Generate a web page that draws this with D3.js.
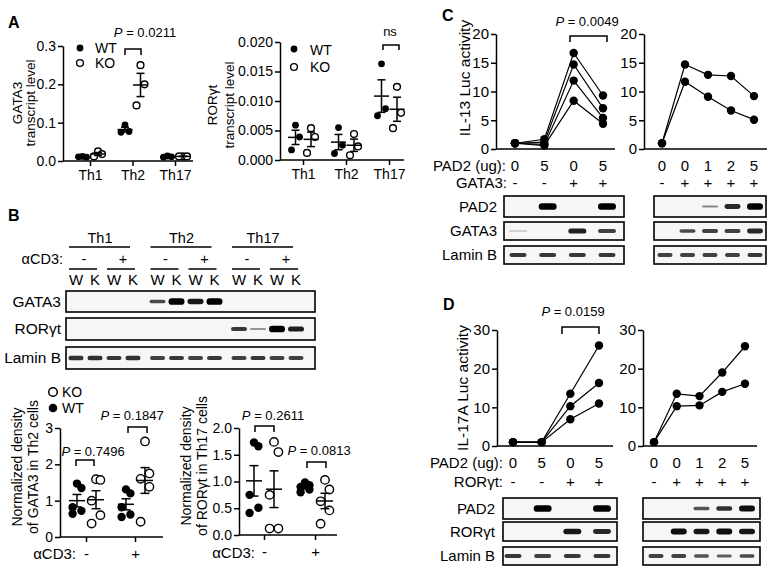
<!DOCTYPE html>
<html><head><meta charset="utf-8">
<script src="https://cdn.jsdelivr.net/npm/d3@7"></script>
<style>
body{margin:0;background:#fff;}
svg{display:block;}
</style></head><body>
<script>
// ===== Panel A data =====
const cellTypes = ["Th1", "Th2", "Th17"];
const gata3WT = [[0.012, 0.010, 0.011], [0.094, 0.077, 0.075], [0.013, 0.011, 0.010]];
const gata3KO = [[0.025, 0.018, 0.012], [0.250, 0.200, 0.145], [0.012, 0.012, 0.012]];
const gata3Ticks = [0, 0.1, 0.2, 0.3];
const rorWT = [[0.0059, 0.0039, 0.0017], [0.0055, 0.0025, 0.0011], [0.0163, 0.0087, 0.0075]];
const rorKO = [[0.0054, 0.0039, 0.0012], [0.0044, 0.0023, 0.0008], [0.0124, 0.0080, 0.0054]];
const rorTicks = [0, 0.005, 0.010, 0.015, 0.020];
const genotypes = ["WT", "KO"];

// ===== Panel B data =====
const blotGroups = ["Th1", "Th2", "Th17"];
const laneLetters = ["W", "K", "W", "K"];
const stimSigns = ["-", "+"];
const blotB_GATA3 = [0, 0, 0, 0, 0.55, 1, 0.85, 1, 0, 0, 0, 0];
const blotB_ROR = [0, 0, 0, 0, 0, 0, 0, 0, 0.65, 0.2, 1, 0.8];
const blotB_Lamin = [0.7, 0.7, 0.65, 0.7, 0.6, 0.65, 0.6, 0.65, 0.6, 0.65, 0.6, 0.6];
const normGata3WT = [[1.47, 1.35, 0.82, 0.72, 0.64], [1.31, 1.20, 0.82, 0.62, 0.55]];
const normGata3KO = [[1.59, 1.57, 1.00, 0.60, 0.37], [2.63, 1.75, 1.60, 1.38, 0.42]];
const normRorWT = [[1.73, 1.66, 0.75, 0.51, 0.41], [0.98, 0.93, 0.90, 0.85, 0.80]];
const normRorKO = [[1.74, 1.55, 0.75, 0.12, 0.12], [1.03, 0.85, 0.63, 0.46, 0.21]];
const normGata3Ticks = [0, 1, 2, 3];
const normRorTicks = [0, 0.5, 1.0, 1.5, 2.0];
const pB = ["0.7496", "0.1847", "0.2611", "0.0813"];

// ===== Panel C data =====
const padDose4 = ["0", "5", "0", "5"];
const signs4 = ["-", "-", "+", "+"];
const padDose5 = ["0", "0", "1", "2", "5"];
const signs5 = ["-", "+", "+", "+", "+"];
const il13Left = [[1.0, 1.7, 16.7, 9.3], [1.0, 1.2, 14.7, 7.1], [1.0, 0.8, 11.9, 5.4], [1.0, 0.6, 8.4, 4.4]];
const il13Right = [[1.0, 14.7, 12.9, 12.7, 9.2], [1.0, 11.7, 9.1, 6.7, 5.1]];
const il13Ticks = [0, 5, 10, 15, 20];
const blotC_PAD2_L = [0, 1, 0, 1];
const blotC_GATA3_L = [0.03, 0, 0.8, 0.6];
const blotC_Lamin_L = [0.65, 0.65, 0.65, 0.65];
const blotC_PAD2_R = [0, 0, 0.25, 0.75, 1];
const blotC_GATA3_R = [0, 0.55, 0.6, 0.6, 0.75];
const blotC_Lamin_R = [0.6, 0.6, 0.6, 0.6, 0.65];

// ===== Panel D data =====
const il17Left = [[1.0, 1.0, 13.5, 26.0], [1.0, 1.0, 10.3, 16.3], [1.0, 1.0, 6.9, 11.0]];
const il17Right = [[1.0, 13.5, 12.9, 19.0, 25.8], [1.0, 10.3, 10.5, 14.0, 16.1]];
const il17Ticks = [0, 10, 20, 30];
const blotD_PAD2_L = [0, 1, 0, 1];
const blotD_ROR_L = [0, 0, 0.85, 0.75];
const blotD_Lamin_L = [0.65, 0.6, 0.65, 0.65];
const blotD_PAD2_R = [0, 0, 0.5, 0.7, 0.9];
const blotD_ROR_R = [0, 0.9, 0.85, 0.9, 0.85];
const blotD_Lamin_R = [0.6, 0.6, 0.5, 0.45, 0.55];

const FONT = '"Liberation Sans", Arial, Helvetica, sans-serif';
const svg = d3.select("body").append("svg").attr("width", 770).attr("height", 567)
  .style("font-family", FONT);
svg.append("rect").attr("width", 770).attr("height", 567).attr("fill", "#fff");
svg.append("defs").append("filter").attr("id", "blur")
  .attr("x", "-30%").attr("y", "-100%").attr("width", "160%").attr("height", "300%")
  .append("feGaussianBlur").attr("stdDeviation", 0.65);

function styleAxis(g, fs) {
  g.select(".domain").attr("stroke", "#000").attr("stroke-width", 1.5);
  g.selectAll(".tick line").attr("stroke", "#000").attr("stroke-width", 1.5);
  g.selectAll(".tick text").attr("fill", "#000").attr("font-size", fs).attr("font-family", FONT);
}
function txt(g, x, y, s, fs, anchor = "middle") {
  return g.append("text").attr("x", x).attr("y", y).attr("font-size", fs)
    .attr("text-anchor", anchor).attr("fill", "#000").text(s);
}
function rotTxt(g, x, y, s, fs) {
  return g.append("text").attr("transform", `translate(${x},${y}) rotate(-90)`)
    .attr("font-size", fs).attr("text-anchor", "middle").attr("fill", "#000").text(s);
}
function pText(g, cx, y, val, fs = 13) {
  const t = g.append("text").attr("x", cx).attr("y", y).attr("text-anchor", "middle").attr("font-size", fs);
  t.append("tspan").attr("font-style", "italic").text("P");
  t.append("tspan").text(" = " + val);
}
function bracket(g, x1, x2, yTop, yBot) {
  g.append("path").attr("d", `M${x1},${yBot}V${yTop}H${x2}V${yBot}`)
    .attr("fill", "none").attr("stroke", "#000").attr("stroke-width", 1.5);
}
function letter(x, y, s) {
  svg.append("text").attr("x", x).attr("y", y).attr("font-size", 16).attr("font-weight", "bold").text(s);
}

const offs = [0, 4, -4, 4, -4];
function dotGroup(g, cx, vals, y, filled, r, half, cap) {
  vals.forEach((v, i) => {
    g.append("circle").attr("cx", cx + offs[i] * (vals.length === 5 ? 1.1 : 1)).attr("cy", y(v)).attr("r", r)
      .attr("fill", filled ? "#000" : "#fff").attr("stroke", "#000").attr("stroke-width", filled ? 0 : 1.4);
  });
  const m = d3.mean(vals), se = d3.deviation(vals) / Math.sqrt(vals.length);
  const st = (sel) => sel.attr("stroke", "#000").attr("stroke-width", 1.5);
  st(g.append("line").attr("x1", cx - half).attr("x2", cx + half).attr("y1", y(m)).attr("y2", y(m)));
  st(g.append("line").attr("x1", cx).attr("x2", cx).attr("y1", y(m - se)).attr("y2", y(m + se)));
  st(g.append("line").attr("x1", cx - cap).attr("x2", cx + cap).attr("y1", y(m - se)).attr("y2", y(m - se)));
  st(g.append("line").attr("x1", cx - cap).attr("x2", cx + cap).attr("y1", y(m + se)).attr("y2", y(m + se)));
}

function dotPlot(c) {
  const g = svg.append("g");
  const y = d3.scaleLinear().domain([0, c.max]).range([c.y0, c.y1]);
  const x = d3.scalePoint().domain(c.cats).range([c.xFirst, c.xLast]);
  const ya = g.append("g").attr("transform", `translate(${c.ax},0)`)
    .call(d3.axisLeft(y).tickValues(c.ticks).tickFormat(c.fmt).tickSize(5).tickSizeOuter(0).tickPadding(2));
  styleAxis(ya, c.fs);
  const xa = g.append("g").attr("transform", `translate(0,${c.y0})`)
    .call(d3.axisBottom(x).tickSize(5).tickSizeOuter(0).tickPadding(c.xPad));
  styleAxis(xa, c.xfs);
  xa.select(".domain").attr("d", `M${c.ax},0H${c.axEnd}`);
  c.cats.forEach((cat, i) => {
    dotGroup(g, x(cat) - c.dx1, c.wt[i], y, true, c.r, c.half, c.cap);
    dotGroup(g, x(cat) + c.dx2, c.ko[i], y, false, c.r, c.half, c.cap);
  });
  return { g, x, y };
}

// ================= Panel A =================
letter(8, 28, "A");
{
  const p = dotPlot({ max: 0.3, y0: 161, y1: 46, ax: 63, axEnd: 193, cats: cellTypes, xFirst: 90, xLast: 175,
    ticks: gata3Ticks, fmt: d3.format(".1f"), fs: 14, xfs: 14, xPad: 4, wt: gata3WT, ko: gata3KO,
    dx1: 7.5, dx2: 8, r: 3.4, half: 7.5, cap: 4 });
  const g = p.g;
  g.append("circle").attr("cx", 80).attr("cy", 48).attr("r", 3.4).attr("fill", "#000");
  g.append("circle").attr("cx", 80).attr("cy", 63).attr("r", 3.4).attr("fill", "#fff").attr("stroke", "#000").attr("stroke-width", 1.4);
  txt(g, 95, 53, genotypes[0], 14, "start");
  txt(g, 95, 68, genotypes[1], 14, "start");
  pText(g, 145, 37, "0.0211");
  bracket(g, 125, 141, 49, 55);
  rotTxt(g, 21.5, 103, "GATA3", 13.5);
  rotTxt(g, 35, 103, "transcript level", 13.5);
}
{
  const p = dotPlot({ max: 0.02, y0: 160, y1: 42, ax: 280, axEnd: 404, cats: cellTypes, xFirst: 303, xLast: 389,
    ticks: rorTicks, fmt: d3.format(".3f"), fs: 14, xfs: 14, xPad: 4, wt: rorWT, ko: rorKO,
    dx1: 7.5, dx2: 8, r: 3.4, half: 7.5, cap: 4 });
  const g = p.g;
  g.append("circle").attr("cx", 294).attr("cy", 49).attr("r", 3.4).attr("fill", "#000");
  g.append("circle").attr("cx", 294).attr("cy", 67).attr("r", 3.4).attr("fill", "#fff").attr("stroke", "#000").attr("stroke-width", 1.4);
  txt(g, 310, 55, genotypes[0], 14, "start");
  txt(g, 310, 72, genotypes[1], 14, "start");
  txt(g, 390, 36, "ns", 13);
  bracket(g, 383, 399, 45, 50);
  rotTxt(g, 217, 105, "RORγt", 13.5);
  rotTxt(g, 234, 105, "transcript level", 13.5);
}

// ================= Panel B =================
letter(8, 221, "B");
function blotRow(g, x0, x1, y0, y1, laneX, vals, label, labelX, bandW, fs) {
  g.append("rect").attr("x", x0).attr("y", y0).attr("width", x1 - x0).attr("height", y1 - y0)
    .attr("fill", "#f6f6f6").attr("stroke", "#000").attr("stroke-width", 1.6);
  const cy = (y0 + y1) / 2;
  vals.forEach((v, i) => {
    if (v <= 0) return;
    const h = 1.5 + 5.2 * Math.pow(v, 1.5);
    g.append("rect").attr("x", laneX(i) - bandW / 2).attr("y", cy - h / 2)
      .attr("width", bandW).attr("height", h).attr("rx", h / 2)
      .attr("fill", "#000").attr("fill-opacity", Math.min(1, 0.12 + 0.88 * Math.pow(v, 0.7))).attr("filter", "url(#blur)");
  });
  if (label) txt(g, labelX, cy + 5, label, fs, "end");
}
{
  const g = svg.append("g");
  const gx = d3.scalePoint().domain(blotGroups).range([76, 239]);
  const ix = d3.scalePoint().domain(d3.range(4)).range([0, 57]);
  const laneX = (i) => gx(blotGroups[Math.floor(i / 4)]) + ix(i % 4);
  const ln = (x1, x2, y) => g.append("line").attr("x1", x1).attr("x2", x2).attr("y1", y).attr("y2", y)
    .attr("stroke", "#000").attr("stroke-width", 1.5);
  blotGroups.forEach((grp) => {
    const g0 = gx(grp);
    txt(g, g0 + 24, 243, grp, 14.5);
    ln(g0 - 7, g0 + 54, 247);
    ln(g0 - 7, g0 + 21, 269);
    ln(g0 + 31, g0 + 59, 269);
    txt(g, g0 + 8, 264, stimSigns[0], 14.5);
    txt(g, g0 + 47, 264, stimSigns[1], 14.5);
    laneLetters.forEach((L, j) => txt(g, g0 + ix(j), 285, L, 15));
  });
  txt(g, 63, 264, "αCD3:", 14.5, "end");
  blotRow(g, 66, 315, 291, 312, laneX, blotB_GATA3, "GATA3", 61, 16, 15.5);
  blotRow(g, 66, 315, 318, 340, laneX, blotB_ROR, "RORγt", 61, 16, 15.5);
  blotRow(g, 66, 315, 347, 369, laneX, blotB_Lamin, "Lamin B", 61, 15, 15.5);
}
{
  const p = dotPlot({ max: 3, y0: 537, y1: 428, ax: 60, axEnd: 163, cats: stimSigns, xFirst: 86, xLast: 135,
    ticks: normGata3Ticks, fmt: d3.format("d"), fs: 14, xfs: 15, xPad: 6, wt: normGata3WT, ko: normGata3KO,
    dx1: 9, dx2: 10, r: 4.2, half: 8, cap: 4.5 });
  const g = p.g;
  g.append("circle").attr("cx", 53).attr("cy", 392).attr("r", 4.3).attr("fill", "#fff").attr("stroke", "#000").attr("stroke-width", 1.5);
  g.append("circle").attr("cx", 53).attr("cy", 408).attr("r", 4.3).attr("fill", "#000");
  txt(g, 62, 397, genotypes[1], 14, "start");
  txt(g, 62, 413, genotypes[0], 14, "start");
  txt(g, 76, 559, "αCD3:", 15, "end");
  pText(g, 93, 456, pB[0]);
  bracket(g, 76, 94, 460, 466);
  pText(g, 132, 420, pB[1]);
  bracket(g, 128, 147, 427, 433);
  rotTxt(g, 22, 467, "Normalized density", 14);
  rotTxt(g, 38, 467, "of GATA3 in Th2 cells", 14);
}
{
  const p = dotPlot({ max: 2, y0: 535, y1: 428, ax: 239, axEnd: 337, cats: stimSigns, xFirst: 264, xLast: 315,
    ticks: normRorTicks, fmt: d3.format(".1f"), fs: 14, xfs: 15, xPad: 6, wt: normRorWT, ko: normRorKO,
    dx1: 10, dx2: 10, r: 4.2, half: 8, cap: 4.5 });
  const g = p.g;
  txt(g, 255, 558, "αCD3:", 15, "end");
  pText(g, 273, 420, pB[2]);
  bracket(g, 255, 274, 426, 432);
  pText(g, 319, 455, pB[3]);
  bracket(g, 307, 326, 462, 468);
  rotTxt(g, 191, 466, "Normalized density", 14);
  rotTxt(g, 207, 466, "of RORγt in Th17 cells", 14);
}

// ================= Panels C & D =================
function lucPlot(c) {
  const g = svg.append("g");
  const y = d3.scaleLinear().domain([0, c.max]).range([c.y0, c.y1]);
  const x = d3.scalePoint().domain(d3.range(c.series[0].length)).range([c.xFirst, c.xLast]);
  const ya = g.append("g").attr("transform", `translate(${c.ax},0)`)
    .call(d3.axisLeft(y).tickValues(c.ticks).tickSize(5).tickSizeOuter(0).tickPadding(2));
  styleAxis(ya, 15);
  const xa = g.append("g").attr("transform", `translate(0,${c.y0})`)
    .call(d3.axisBottom(x).tickSize(0).tickFormat(""));
  styleAxis(xa, 15);
  xa.select(".domain").attr("d", `M${c.ax},0H${c.axEnd}`);
  const line = d3.line().x((d, i) => x(i)).y(d => y(d));
  c.series.forEach(s => g.append("path").attr("d", line(s)).attr("fill", "none").attr("stroke", "#000").attr("stroke-width", 1.2));
  c.series.forEach(s => s.forEach((v, i) => g.append("circle").attr("cx", x(i)).attr("cy", y(v)).attr("r", 4.2).attr("fill", "#000")));
  c.row1.forEach((s, i) => txt(g, x(i), c.r1y, s, 15));
  c.row2.forEach((s, i) => txt(g, x(i), c.r2y, s, 15));
  return { g, x, y };
}

letter(442, 21, "C");
{
  const p = lucPlot({ max: 20, y0: 149, y1: 34, ax: 496, axEnd: 615, xFirst: 515, xLast: 603,
    ticks: il13Ticks, series: il13Left, row1: padDose4, row2: signs4, r1y: 171, r2y: 188 });
  const g = p.g;
  txt(g, 506, 171, "PAD2 (ug):", 15, "end");
  txt(g, 507, 188, "GATA3:", 15, "end");
  pText(g, 587, 26, "0.0049");
  bracket(g, 570, 607, 36, 42);
  rotTxt(g, 470, 78, "IL-13 Luc activity", 15.5);
  const lx = d3.scalePoint().domain(d3.range(4)).range([518, 607]);
  blotRow(g, 504, 624, 196, 217, lx, blotC_PAD2_L, "PAD2", 497, 18, 15);
  blotRow(g, 504, 624, 222, 240, lx, blotC_GATA3_L, "GATA3", 497, 18, 15);
  blotRow(g, 504, 624, 246, 264, lx, blotC_Lamin_L, "Lamin B", 497, 17, 15);
}
{
  const p = lucPlot({ max: 20, y0: 149, y1: 34, ax: 644, axEnd: 767, xFirst: 662, xLast: 754,
    ticks: il13Ticks, series: il13Right, row1: padDose5, row2: signs5, r1y: 171, r2y: 188 });
  const g = p.g;
  const lx = d3.scalePoint().domain(d3.range(5)).range([665, 755]);
  blotRow(g, 654, 766, 196, 217, lx, blotC_PAD2_R, "", 0, 16, 15);
  blotRow(g, 654, 766, 222, 240, lx, blotC_GATA3_R, "", 0, 16, 15);
  blotRow(g, 654, 766, 246, 264, lx, blotC_Lamin_R, "", 0, 15, 15);
}

letter(443, 310, "D");
{
  const p = lucPlot({ max: 30, y0: 446, y1: 330, ax: 497, axEnd: 613, xFirst: 513, xLast: 599,
    ticks: il17Ticks, series: il17Left, row1: padDose4, row2: signs4, r1y: 468, r2y: 487 });
  const g = p.g;
  txt(g, 503, 468, "PAD2 (ug):", 15, "end");
  txt(g, 503, 487, "RORγt:", 15, "end");
  pText(g, 573, 316, "0.0159");
  bracket(g, 562, 599, 327, 334);
  rotTxt(g, 468, 388, "IL-17A Luc activity", 15.5);
  const lx = d3.scalePoint().domain(d3.range(4)).range([513, 602]);
  blotRow(g, 503, 617, 498, 519, lx, blotD_PAD2_L, "PAD2", 495, 18, 15);
  blotRow(g, 503, 617, 522, 541, lx, blotD_ROR_L, "RORγt", 495, 18, 15);
  blotRow(g, 503, 617, 547, 565, lx, blotD_Lamin_L, "Lamin B", 495, 17, 15);
}
{
  const p = lucPlot({ max: 30, y0: 446, y1: 330, ax: 643, axEnd: 757, xFirst: 654, xLast: 745,
    ticks: il17Ticks, series: il17Right, row1: padDose5, row2: signs5, r1y: 468, r2y: 487 });
  const g = p.g;
  const lx = d3.scalePoint().domain(d3.range(5)).range([656, 747]);
  blotRow(g, 643, 760, 498, 519, lx, blotD_PAD2_R, "", 0, 16, 15);
  blotRow(g, 643, 760, 522, 541, lx, blotD_ROR_R, "", 0, 16, 15);
  blotRow(g, 643, 760, 547, 565, lx, blotD_Lamin_R, "", 0, 15, 15);
}
</script>
</body></html>
